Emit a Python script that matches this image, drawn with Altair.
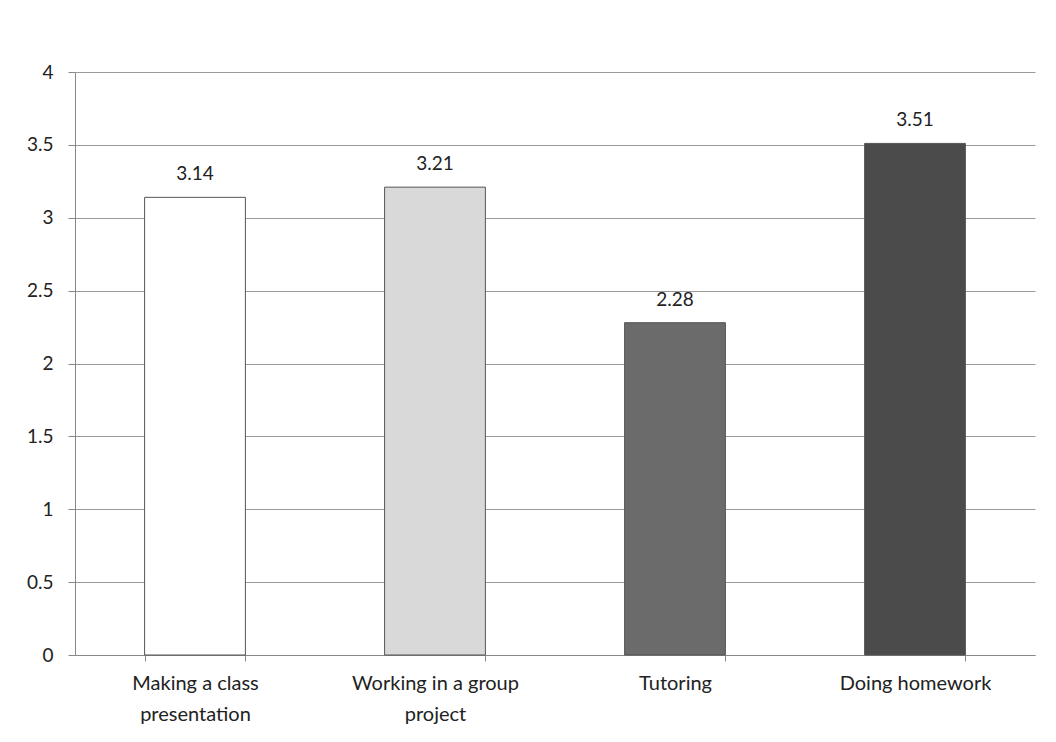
import altair as alt
import pandas as pd

categories = ["Making a class presentation", "Working in a group project", "Tutoring", "Doing homework"]
values = [3.14, 3.21, 2.28, 3.51]
value_text = ["3.14", "3.21", "2.28", "3.51"]
fills = ["#ffffff", "#d9d9d9", "#6b6b6b", "#4b4b4b"]
y_ticks = [0, 0.5, 1, 1.5, 2, 2.5, 3, 3.5, 4]

df = pd.DataFrame({"cat": categories, "value": values, "txt": value_text, "fill": fills})

label_expr = ("datum.value == 'Making a class presentation' ? ['Making a class','presentation'] : "
              "datum.value == 'Working in a group project' ? ['Working in a group','project'] : datum.value")

x = alt.X("cat:N", sort=categories, title=None,
          scale=alt.Scale(paddingInner=0.58, paddingOuter=0.29),
          axis=alt.Axis(labelAngle=0, labelExpr=label_expr, labelFontSize=20, labelColor="#222",
                        labelFont="Lato", labelPadding=12, labelLineHeight=31, grid=False,
                        tickBand="extent", tickSize=6, tickColor="#888", domainColor="#888",
                        labelBaseline="top"))

base = alt.Chart(df)

bars = base.mark_bar(stroke="#555555", strokeWidth=1).encode(
    x=x,
    y=alt.Y("value:Q", title=None,
            scale=alt.Scale(domain=[0, 4], nice=False),
            axis=alt.Axis(values=y_ticks, labelFontSize=19, labelColor="#222", labelFont="Lato",
                          tickSize=7, tickColor="#888", domainColor="#888", labelPadding=15,
                          gridColor="#9a9a9a", gridWidth=1, minExtent=50, maxExtent=50,
                          labelExpr="datum.value")),
    fill=alt.Fill("fill:N", scale=None),
)

texts = base.mark_text(dy=-23, fontSize=19, font="Lato", color="#222").encode(
    x=alt.X("cat:N", sort=categories),
    y=alt.Y("value:Q"),
    text="txt:N",
)

chart = (bars + texts).properties(
    width=960, height=583,
    background="#ffffff",
    padding={"left": 17, "top": 55, "right": 5, "bottom": 5},
).configure_view(stroke=None if False else "transparent", strokeWidth=0)

chart.save("out.html", embed_options={"renderer": "svg", "actions": False})
